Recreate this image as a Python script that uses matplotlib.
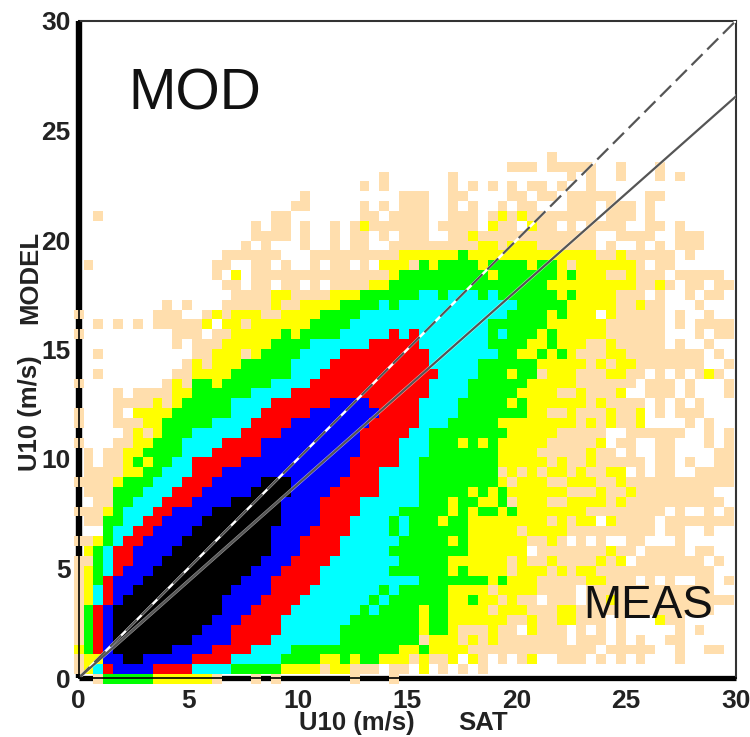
import numpy as np
import matplotlib
matplotlib.use('Agg')
import matplotlib.pyplot as plt
from matplotlib.colors import ListedColormap

plt.rcParams['font.family'] = ['Liberation Sans', 'DejaVu Sans']

BIN = 0.45
N_COLS = 67

# count classes of the scatter table, lowest first
class_codes = 'pygcrbk'
class_colors = ['#FFDEAD', '#FFFF00', '#00FF00', '#00FFFF', '#FF0000', '#0000FF', '#000000']

# one string per model bin (bottom up), each "<first sat bin><class>", '.' = empty
model_bins = [
    "2p 3g 8y 14p 15. 18p 19. 20p 21. 28p 29. 32p 33.",
    "0p 1y 2c 3r 4b 8r 12c 16g 21y 25p 26y 28p 31. 32p 34. 35y 36. 37p 38. 39p 40. 41p 42.",
    "0p 1y 3b 5k 7b 12r 16c 21g 25y 27g 28y 29g 31y 34p 35y 36p 38y 39. 40y 41p 42. 43p 44. 45p 46y 47. 49p 52. 53p 54. 55p 56. 57p 58. 61p 62.",
    "0y 1g 2r 3b 4k 10b 14r 18c 22g 33y 35g 36y 40p 53. 54p 59. 61p 62. 64p 66.",
    "0p 1g 2r 3b 4k 12b 16r 20c 27g 35p 36y 39p 40y 41p 42y 43p 50. 51p 54. 55p 56. 57p 58. 60p 62.",
    "0p 1g 2r 3b 4k 13b 16r 21c 27g 35y 36g 38y 39p 42y 43p 45. 46y 47p 50. 51p 52. 53p 54. 55p 56. 61p 62. 63p 64.",
    "0p 1g 2r 3b 4k 14b 17r 21c 28g 35y 36g 38y 44p 46y 47p 49y 51p 54. 55p 56. 59y 60p 62.",
    "0p 1g 2r 3b 4k 15b 18r 22c 29g 30c 31g 35y 36g 38y 42p 43y 46p 49y 51p 65.",
    "0p 1y 2c 3r 4b 5k 15b 19r 23c 30g 31c 32g 38y 40g 41y 43p 44y 45p 47. 48p 51. 52p 54y 55p",
    "0p 1y 2c 3r 4b 6k 16b 20r 24c 31g 32c 33g 38y 42p 43y 47p 51. 52p 65.",
    "0p 1y 2g 3r 4b 7k 17b 20r 25c 35g 42y 43g 44y 47p 52y 54p 57. 58p 59. 60p 61. 63p 65. 66p",
    "0p 1y 2g 3c 4r 5b 8k 18b 21r 25c 32g 38y 39g 40y 44p 45y 48p 49y 50p 51y 53p 65.",
    "0p 2g 3c 4r 6b 9k 19b 22r 26c 33g 38y 44p 45y 46p 48y 49p 53y 54p 55y 56. 57p 64. 65p 66.",
    "1y 2g 3c 4r 6b 10k 20b 23r 27c 32g 40y 46. 47p 54y 55p 57. 58p 62. 63p 65.",
    "0p 1p 2y 3g 4c 5r 7b 11k 20b 23r 27c 33g 38y 39g 40y 46p 48y 49p 50. 51p 52. 53p 54. 56p 58. 61p 62.",
    "3g 4c 6r 8b 12k 20b 24r 28c 32g 33c 34g 40y 45p 46y 50p 59. 60p 62. 64p 65.",
    "1p 3g 5c 7r 9b 13k 21b 25r 28c 32g 33c 34g 37y 38g 40y 48p 49y 50p 51y 53. 54y 55p 59. 60p",
    "0p 1p 3y 4g 5c 8r 10b 14k 21b 25r 29c 33g 38y 39g 40y 41g 43y 44g 45y 52p 60. 61p 62. 64p 65. 66p",
    "2p 4g 6c 9r 12b 16k 21b 25r 29c 35g 38y 39g 41y 43g 44p 45y 48p 50y 54p 55y 56p 66.",
    "1p 4g 7c 10r 13b 18k 22b 26r 31c 35g 40y 41g 42y 43g 44y 50p 53y 54p 56y 57p 65.",
    "0p 1p 4y 5g 8c 11r 14b 19k 22b 27r 31c 35g 43y 44p 45y 48p 50y 53p 55y 56p",
    "1p 5y 7g 9c 12r 15b 28r 31c 35g 43p 44y 45p 46y 47p 48y 50p 51y 52p 54y 56. 57p 58. 59p 61. 63p",
    "1p 2. 3p 5y 6g 7y 8g 10c 12r 17b 28r 33c 35g 43y 48p 49y 50p 52y 53p 58. 59p 61. 62p 63. 65p",
    "1p 2. 3p 5y 7g 11c 14r 19b 29r 33c 36g 43y 47p 52y 53p 55. 56p 57. 59p 61. 65p",
    "0p 1. 4p 6y 8g 11c 15r 19b 29r 33c 36g 39y 40g 41y 42g 43y 48p 53y 54. 55p 57. 59p 61. 64p 65. 66p",
    "5p 6y 7p 8y 9g 12c 17r 21b 29r 34c 36g 44y 49p 54. 56p 62. 64p 65. 66p",
    "0p 1. 4p 7y 9g 14c 18r 22b 30r 35c 38g 43y 51p 52y 53p 54y 55p 57y 58. 62p 63. 64p 65.",
    "0p 1. 4p 5. 6y 10g 16c 19r 24b 31r 35c 39g 46y 48p 50y 51p 54y 55p 57y 58. 59p 60. 61p 64.",
    "4p 8y 9p 10y 11g 16c 20r 26b 30r 35c 39g 44y 45g 46y 52p 53y 54p 58. 59p 60. 61p 62. 63p 64.",
    "4p 5. 6p 10y 12g 18c 22r 36c 40g 45y 49p 51y 52p 55y 56. 58p 61. 62p 63. 66p",
    "0p 1. 9p 10y 11p 12g 14y 15g 20c 24r 36c 40g 46y 51p 57. 58p 61. 62p 63. 66p",
    "2p 3. 10p 12y 16g 22c 25r 37c 41g 44y 45g 47p 48y 51p 54y 56p 58. 59p 60. 61p 62. 63p 64y 65p 66.",
    "11p 12y 13p 14y 17g 22c 26r 36c 41g 47y 52p 53y 54p 55y 57p 64. 66p",
    "2p 3. 12p 14y 17p 18y 19g 23c 27r 36c 43g 45y 47g 48y 49g 50y 51p 54y 56p 64. 65p 66.",
    "10p 11. 12p 15y 20g 24c 30r 35c 42g 46y 48g 49y 52p 54y 55p 60. 61p 62. 64p 65.",
    "0p 1. 10p 13. 14p 16y 21g 22y 23g 27c 32r 33c 34r 35c 42g 43c 44g 47y 48g 49y 54p 60. 63p 64. 65p",
    "2p 3. 4p 5. 6p 7. 8p 13y 14. 15y 17p 18y 24g 28c 42g 48y 54p 60. 61p 62. 63p",
    "0p 1. 8p 11. 13p 14y 15p 16y 19p 21y 25g 29c 44g 48y 49g 50y 53. 54y 55p 60. 61p 62. 64p 65.",
    "9p 10. 11p 12. 15p 20y 21p 23y 27g 31c 32g 33c 45g 50y 55p 57y 58p 60. 63p 64.",
    "16p 20y 22p 26y 29g 35c 37g 38c 41g 42c 43g 49y 50g 51y 55p 58. 59p 60. 62p 63. 64p 66.",
    "15p 17. 18p 20. 21p 23. 24p 25. 26p 30y 32g 48y 57p 59y 60p 61. 62p 64. 65p",
    "14p 15. 16y 17. 18p 32y 33g 42y 43g 49y 50g 51y 54p 56y 57p 60. 61p 66.",
    "1p 2. 14p 16. 18p 20. 21p 22. 24p 25. 26p 28. 29p 30. 31y 34p 35g 36y 37g 41y 42g 46y 47g 49y 50p 51y 57p 58. 59p 61.",
    "15p 21. 24p 33y 39g 40y 53p 55y 56p 61. 62p 63.",
    "17p 18. 19p 20. 23p 24. 26p 27. 28p 30. 32p 41y 43p 44y 47p 53. 54p 55. 57p 58. 59p 60. 61p 64.",
    "18p 22. 23p 24. 26p 27. 28p 30. 31p 32. 33p 36. 38p 40y 41p 53. 55p 59. 61p 64.",
    "18p 19. 20p 22. 23p 24. 26p 27. 28p 29y 30p 36. 37p 41. 42y 43p 45. 46y 47p 49. 50p 51. 52p 56. 58p 60. 61p 62.",
    "2p 3. 20p 22. 29p 31. 32p 36. 38p 41. 42p 43y 44p 45y 46p 53. 54p 57. 58p 59.",
    "22p 24. 29p 30. 31p 32. 33p 36. 38p 39. 40p 41. 43p 44. 45p 47. 50p 53. 54p 57. 58p 59.",
    "23p 24. 33p 36. 38p 40. 44p 46. 47p 49. 50p 55. 58p 60.",
    "29p 30. 31p 32. 38p 39. 40p 41. 42p 43. 44p 45. 46p 48. 49p 50. 52p 53.",
    "31p 32. 38p 39. 50p 51. 52p 53. 55p 56. 59p 60. 61p 62.",
    "44p 47. 48p 53. 55p 56. 59p 60.",
    "48p 49.",
]

axis_ticks = [0, 5, 10, 15, 20, 25, 30]
fit_slope = 0.885


def decode_bins(rows):
    grid = np.full((len(rows), N_COLS), -1)
    for i, row in enumerate(rows):
        tokens = row.split()
        for j, tok in enumerate(tokens):
            start = int(tok[:-1])
            stop = int(tokens[j + 1][:-1]) if j + 1 < len(tokens) else N_COLS
            grid[i, start:stop] = class_codes.find(tok[-1])
    return grid


grid = decode_bins(model_bins)
x_edges = (np.arange(N_COLS + 1) - 0.5) * BIN
y_edges = (np.arange(len(model_bins) + 1) - 0.5) * BIN - 0.05

fig = plt.figure(figsize=(7.5, 7.37), dpi=100)
ax = fig.add_axes([78.7 / 750, 1 - 678 / 737, 657 / 750, 657 / 737])

# thick black base of the two axes, the table is painted over it
ax.plot([0, 0], [0, 30], color='black', lw=4.6, clip_on=False, zorder=1, solid_capstyle='butt')
ax.plot([0, 30], [0, 0], color='black', lw=3.8, clip_on=False, zorder=1, solid_capstyle='butt')

mesh = ax.pcolormesh(x_edges, y_edges, np.ma.masked_less(grid, 0), cmap=ListedColormap(class_colors),
                     vmin=-0.5, vmax=6.5, zorder=2, antialiased=False)
mesh.set_clip_on(False)

ax.plot([0, 30], [0, 30], color='white', lw=1.8, zorder=3)
ax.plot([0, 30], [0, 30], color='#555555', lw=1.6, ls=(0, (7, 3)), zorder=4)
ax.plot([0, 30], [0, 30 * fit_slope], color='white', lw=2.4, alpha=0.6, zorder=3)
ax.plot([0, 30], [0, 30 * fit_slope], color='#555555', lw=1.6, zorder=4)

ax.set_xlim(0, 30)
ax.set_ylim(0, 30)
ax.set_xticks(axis_ticks)
ax.set_yticks(axis_ticks)
ax.tick_params(length=0, labelsize=19, pad=6)
ax.tick_params(axis='x', pad=8)
for lab in ax.get_xticklabels() + ax.get_yticklabels():
    lab.set_fontweight('bold')
    lab.set_color('#222222')

for side in ['top', 'right']:
    ax.spines[side].set_color('#333333')
    ax.spines[side].set_linewidth(1.5)
for side in ['left', 'bottom']:
    ax.spines[side].set_color('black')
    ax.spines[side].set_linewidth(1.2)
    ax.spines[side].set_zorder(5)

fig.text(194.5 / 750, 1 - 95 / 737, 'MOD', fontsize=41, ha='center', va='center', color='#111111')
fig.text(648 / 750, 1 - 606 / 737, 'MEAS', fontsize=33, ha='center', va='center', color='#111111', zorder=10)
label_style = dict(fontsize=18.5, fontweight='bold', ha='center', va='center', color='#222222')
fig.text(357 / 750, 1 - 723 / 737, 'U10 (m/s)', **label_style)
fig.text(483 / 750, 1 - 723 / 737, 'SAT', **label_style)
fig.text(30 / 750, 1 - 413 / 737, 'U10 (m/s)', rotation=90, **label_style)
fig.text(30 / 750, 1 - 277 / 737, 'MODEL', rotation=90, **label_style)

fig.savefig('out.png', dpi=100)
